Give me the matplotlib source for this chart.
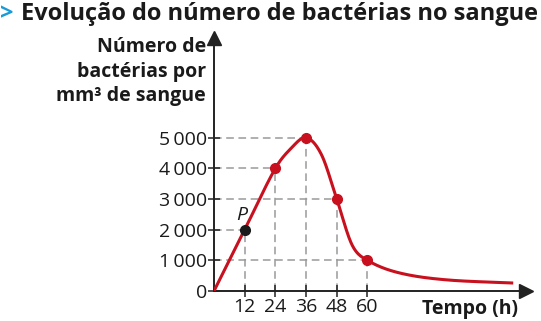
import numpy as np
import matplotlib
matplotlib.use("Agg")
import matplotlib.pyplot as plt

# Data
hours = [12, 24, 36, 48, 60]
bacteria = [2000, 4000, 5000, 3000, 1000]
point_p = (12, 2000)
# curve samples
curve_h = [0, 12, 24, 30, 36, 42, 48, 54, 60, 72, 90, 117]
curve_v = [0, 2000, 4000, 4640, 5000, 4450, 3000, 1500, 1000, 600, 370, 260]
xticks = [12, 24, 36, 48, 60]
yticks = [0, 1000, 2000, 3000, 4000, 5000]
ytick_labels = ["0", "1\u2009000", "2\u2009000", "3\u2009000", "4\u2009000", "5\u2009000"]

RED = "#c8101e"
FONT = ["Open Sans", "DejaVu Sans"]
plt.rcParams["font.family"] = FONT


def smooth(xs, ys, n=600):
    # cubic Hermite (Catmull-Rom tangents) through the read samples
    xs = np.asarray(xs, float); ys = np.asarray(ys, float)
    m = np.zeros_like(ys)
    m[0] = (ys[1] - ys[0]) / (xs[1] - xs[0])
    m[-1] = (ys[-1] - ys[-2]) / (xs[-1] - xs[-2])
    m[1:-1] = (ys[2:] - ys[:-2]) / (xs[2:] - xs[:-2])
    xx = np.linspace(xs[0], xs[-1], n)
    idx = np.clip(np.searchsorted(xs, xx) - 1, 0, len(xs) - 2)
    h = xs[idx + 1] - xs[idx]
    t = (xx - xs[idx]) / h
    h00 = 2 * t**3 - 3 * t**2 + 1
    h10 = t**3 - 2 * t**2 + t
    h01 = -2 * t**3 + 3 * t**2
    h11 = t**3 - t**2
    yy = h00 * ys[idx] + h10 * h * m[idx] + h01 * ys[idx + 1] + h11 * h * m[idx + 1]
    return xx, yy


W, H = 541, 321
fig = plt.figure(figsize=(W / 100, H / 100), dpi=100)
ax = fig.add_axes([214 / W, 30 / H, 312 / W, 253 / H])
ax.set_xlim(0, 122)
ax.set_ylim(0, 8250)

for s in ["top", "right"]:
    ax.spines[s].set_visible(False)
for s in ["left", "bottom"]:
    ax.spines[s].set_linewidth(1.4)
    ax.spines[s].set_color("#222222")

# arrows
ax.plot(1, 0, ">", color="#222222", ms=10, transform=ax.get_yaxis_transform(), clip_on=False)
ax.plot(0, 1, "^", color="#222222", ms=10, transform=ax.get_xaxis_transform(), clip_on=False)

# dashed guides
for hx, vy in zip(hours, bacteria):
    ax.plot([0, hx], [vy, vy], ls=(0, (5, 3)), color="#9a9a9a", lw=1.1, zorder=1)
    ax.plot([hx, hx], [0, vy], ls=(0, (5, 3)), color="#9a9a9a", lw=1.1, zorder=1)

xx, yy = smooth(curve_h, curve_v)
ax.plot(xx, yy, color=RED, lw=2.2, zorder=3, solid_capstyle="butt")

red_h = [h for h, v in zip(hours, bacteria) if (h, v) != point_p]
red_v = [v for h, v in zip(hours, bacteria) if (h, v) != point_p]
ax.plot(red_h, red_v, "o", color=RED, ms=7, zorder=4)
ax.plot([point_p[0]], [point_p[1]], "o", color="#1a1a1a", ms=7, zorder=5)
ax.text(point_p[0] - 1.0, point_p[1] + 200, "P", style="italic", fontsize=14,
        ha="center", va="bottom", color="#1a1a1a")

ax.set_xticks(xticks)
ax.set_xticklabels([str(t) for t in xticks], fontsize=14, color="#1a1a1a")
ax.set_yticks(yticks)
ax.set_yticklabels(ytick_labels, fontsize=14, color="#1a1a1a")
ax.tick_params(axis="both", direction="inout", length=8, width=1.1, color="#222222")
ax.tick_params(axis="y", pad=1)
ax.tick_params(axis="x", pad=1)

fig.text(206 / W, 1 - 37 / H, "Número de\nbactérias por\nmm³ de sangue", ha="right", va="top",
         fontsize=14, fontweight="bold", color="#1a1a1a", linespacing=1.3)
fig.text(518 / W, 1 - 309 / H, "Tempo (h)", ha="right", va="center",
         fontsize=14, fontweight="bold", color="#1a1a1a")

fig.text(0 / W, 1 - 14 / H, ">", ha="left", va="center", fontsize=17, fontweight="bold",
         color="#1a9ad6")
fig.text(21 / W, 1 - 14 / H, "Evolução do número de bactérias no sangue", ha="left",
         va="center", fontsize=17, fontweight="bold", color="#1a1a1a")

fig.savefig("out.png", dpi=100)
